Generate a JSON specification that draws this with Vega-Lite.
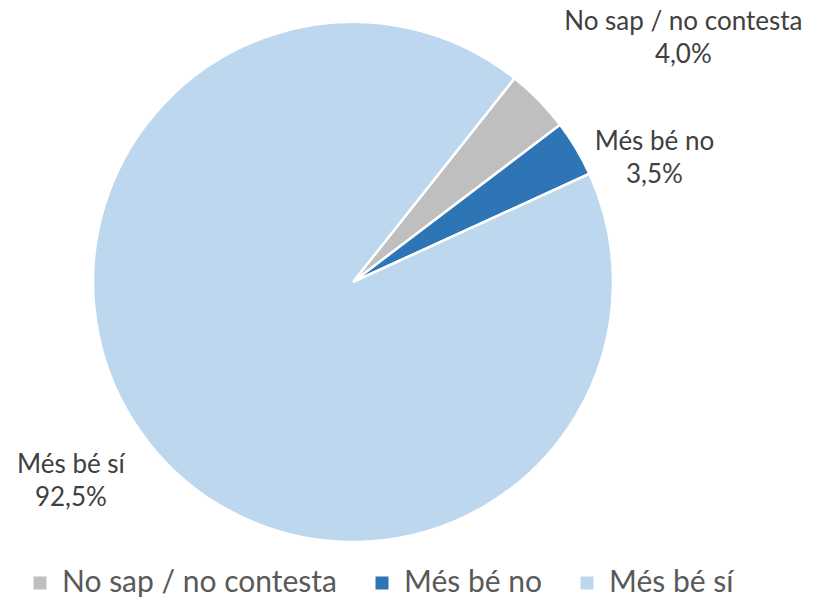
{
  "$schema": "https://vega.github.io/schema/vega-lite/v6.json",
  "width": 520,
  "height": 520,
  "autosize": {"type": "none"},
  "padding": {"left": 93, "top": 22, "right": 205, "bottom": 61},
  "background": "white",
  "data": {"values": [
    {"category": "No sap / no contesta", "value": 4.0},
    {"category": "Més bé no", "value": 3.5},
    {"category": "Més bé sí", "value": 92.5}
  ]},
  "transform": [
    {"window": [{"op": "row_number", "as": "ord"}]},
    {"stack": "value", "groupby": [], "sort": [{"field": "ord", "order": "ascending"}], "as": ["t0", "t1"]},
    {"calculate": "(datum.t0 + datum.t1) / 2", "as": "mid"},
    {"calculate": "datum.category + '\\n' + replace(format(datum.value, '.1f'), '.', ',') + '%'", "as": "label"}
  ],
  "layer": [
    {
      "mark": {"type": "arc", "outerRadius": 260, "stroke": "white", "strokeWidth": 2.5},
      "encoding": {
        "theta": {"field": "t0", "type": "quantitative", "scale": {"domain": [0, 100], "range": [0.6702, 6.9534]}},
        "theta2": {"field": "t1"},
        "color": {
          "field": "category", "type": "nominal",
          "scale": {"domain": ["No sap / no contesta", "Més bé no", "Més bé sí"], "range": ["#BFBFBF", "#2E75B6", "#BDD7EE"]},
          "legend": {
            "orient": "none", "legendX": -68, "legendY": 546, "direction": "horizontal", "title": null,
            "symbolType": "square", "symbolSize": 169, "symbolStrokeWidth": 0,
            "labelFont": "Lato", "labelFontSize": 30, "labelColor": "#595959", "labelOffset": 7,
            "columnPadding": 30, "labelLimit": 400
          }
        }
      }
    },
    {
      "transform": [{"filter": "datum.category === 'No sap / no contesta'"}],
      "mark": {"type": "text", "radius": 300, "dx": 116, "dy": -50, "lineBreak": "\n", "font": "Lato", "fontSize": 26, "lineHeight": 33, "color": "#404040", "align": "center", "baseline": "middle"},
      "encoding": {"theta": {"field": "mid", "type": "quantitative"}, "text": {"field": "label"}}
    },
    {
      "transform": [{"filter": "datum.category === 'Més bé no'"}],
      "mark": {"type": "text", "radius": 300, "dx": 44, "dy": 14, "lineBreak": "\n", "font": "Lato", "fontSize": 26, "lineHeight": 33, "color": "#404040", "align": "center", "baseline": "middle"},
      "encoding": {"theta": {"field": "mid", "type": "quantitative"}, "text": {"field": "label"}}
    },
    {
      "transform": [{"filter": "datum.category === 'Més bé sí'"}],
      "mark": {"type": "text", "radius": 300, "dx": -46, "dy": -2, "lineBreak": "\n", "font": "Lato", "fontSize": 26, "lineHeight": 33, "color": "#404040", "align": "center", "baseline": "middle"},
      "encoding": {"theta": {"field": "mid", "type": "quantitative"}, "text": {"field": "label"}}
    }
  ],
  "config": {"view": {"stroke": null}}
}
